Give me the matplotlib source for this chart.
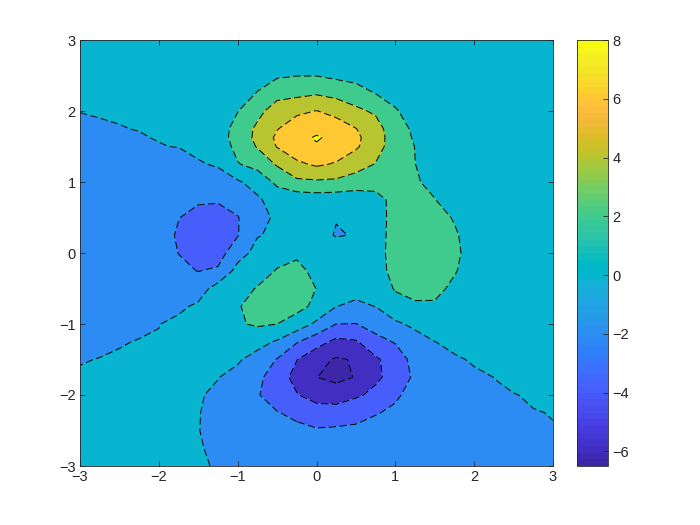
import numpy as np
import matplotlib
matplotlib.use('Agg')
import matplotlib.pyplot as plt
from matplotlib.cm import ScalarMappable
from matplotlib.colors import ListedColormap, Normalize

plt.rcParams['font.family'] = ['Liberation Sans', 'DejaVu Sans']

# values
x_vals = [-3, -2.75, -2.5, -2.25, -2, -1.75, -1.5, -1.25, -1, -0.75, -0.5, -0.25, 0,
          0.25, 0.5, 0.75, 1, 1.25, 1.5, 1.75, 2, 2.25, 2.5, 2.75, 3]
y_vals = [3, 2.75, 2.5, 2.25, 2, 1.75, 1.625, 1.5, 1.25, 1, 0.75, 0.5, 0.25, 0, -0.25,
          -0.5, -0.75, -1, -1.25, -1.5, -1.75, -2, -2.25, -2.5, -2.75, -3]
z_vals = [
    [.01, .01, .02, .02, .03, .04, .05, .08, .1, .12, .15, .3, .35, .3, .25, .15, .1, .06, .03, .02, .01, .01, .005, .005, .005],
    [.01, .01, .02, .03, .04, .07, .1, .2, .3, .5, .8, 1, 1.2, 1, .75, .55, .35, .2, .1, .05, .03, .01, .01, .005, .005],
    [.01, .02, .03, .05, .08, .12, .2, .35, .5, 1.2, 1.75, 1.95, 1.95, 1.6, 1.3, 1.2, .85, .45, .2, .1, .05, .02, .01, .005, .005],
    [.01, .02, .04, .07, .12, .18, .3, .6, .9, 2.1, 3.3, 3.5, 3.8, 3.4, 2.9, 1.95, 1.4, .8, .4, .2, .1, .04, .02, .01, .005],
    [.001, .01, .03, .06, .1, .2, .4, .8, 1.95, 3.4, 5, 5.6, 6.05, 5.4, 4.4, 3.7, 2.15, 1.25, .7, .35, .15, .08, .03, .01, .005],
    [-.01, -.015, -.01, .01, .06, .12, .5, 1.2, 2.6, 4.4, 5.9, 7.1, 7.6, 7, 6.05, 4.8, 2.8, 1.65, .9, .5, .25, .1, .05, .02, .01],
    [-.015, -.022, -.035, -.025, .02, .08, .45, 1.2, 2.7, 4.5, 6.35, 7.5, 8.15, 7.6, 6.4, 4.95, 2.95, 1.8, 1.05, .55, .3, .12, .06, .03, .01],
    [-.02, -.03, -.06, -.06, -.02, .02, .3, .95, 2.5, 4.15, 6.1, 7.3, 7.85, 7.3, 6.25, 4.85, 2.9, 1.97, 1.15, .6, .35, .14, .07, .03, .015],
    [-.03, -.05, -.1, -.2, -.3, -.35, -.12, .15, 1.9, 2.6, 4.2, 5.6, 6.3, 5.8, 4.9, 3.9, 2.6, 2.02, 1.2, .65, .35, .15, .07, .03, .015],
    [-.04, -.07, -.15, -.35, -.6, -.8, -1, -.7, -.25, .8, 2.4, 3.6, 3.7, 3.6, 3, 2.45, 2.3, 2.2, 1.5, .8, .4, .2, .08, .03, .015],
    [-.05, -.09, -.18, -.45, -.95, -1.4, -1.8, -1.8, -1.1, -.3, .9, .7, .9, .8, .9, 1.6, 2.35, 2.8, 2.05, 1, .5, .2, .08, .03, .015],
    [-.05, -.1, -.2, -.5, -1.2, -1.95, -2.5, -2.8, -2.1, -.6, .3, .4, .4, .06, .1, 1.55, 2.35, 3, 2.7, 1.85, .9, .35, .1, .03, .015],
    [-.06, -.11, -.22, -.52, -1.25, -2.2, -2.9, -3.2, -2.1, -.1, .3, .6, .52, -.1, .08, 1.55, 2.4, 3.3, 3.2, 2.25, 1.1, .4, .12, .04, .015],
    [-.06, -.1, -.22, -.5, -1.2, -2.03, -2.7, -2.8, -.8, .6, 1.4, 1.75, .9, .9, .55, 1.6, 2.4, 3.4, 3.3, 2.4, 1.2, .45, .14, .04, .015],
    [-.06, -.1, -.2, -.45, -1, -1.6, -2.05, -1.75, .65, 1.3, 2.1, 2.4, 1.6, 1.1, .7, 1.35, 2.5, 3.1, 2.95, 2.15, 1.1, .45, .15, .05, .015],
    [-.05, -.09, -.18, -.35, -.7, -1, -.9, .8, 1.4, 2.1, 2.9, 2.9, 1.97, .9, .5, .5, 2.2, 2.65, 2.5, 1.6, .85, .4, .15, .05, .015],
    [-.05, -.08, -.15, -.25, -.4, -.35, .3, 1.3, 1.85, 2.7, 3, 2.55, 1.6, .03, -.3, .03, 1, 1.7, 1.75, 1, .5, .25, .1, .04, .015],
    [-.04, -.06, -.1, -.1, -.05, .4, .7, 1, 1.8, 2.25, 2, 1.15, -.4, -2, -2.05, -1.15, -.25, .3, .7, .6, .3, .15, .07, .03, .012],
    [-.03, -.04, -.03, .02, .15, .4, .6, .75, .9, .6, -.2, -1.85, -3.2, -4.5, -4.2, -2.7, -1.85, -.6, -.01, .22, .2, .1, .05, .02, .01],
    [-.01, .005, .05, .12, .25, .35, .45, .55, .2, -.65, -2.1, -3.95, -5.4, -6.2, -5.85, -4.3, -3.1, -1.3, -.65, -.1, .08, .06, .04, .015, .008],
    [.02, .04, .08, .15, .25, .35, .3, .05, -.5, -1.5, -3.1, -4.6, -5.97, -6.5, -5.9, -4.3, -3.4, -1.6, -.95, -.4, -.12, .004, .015, .01, .006],
    [.03, .04, .07, .12, .2, .25, .14, -.3, -.9, -1.85, -3, -3.9, -4.7, -5, -4.25, -3.6, -2.25, -1.4, -.85, -.42, -.18, -.05, -.002, .006, .004],
    [.03, .04, .06, .1, .15, .18, .06, -.45, -1.1, -1.6, -1.9, -2.5, -3.2, -3.1, -2.8, -2.1, -1.7, -1.2, -.65, -.33, -.15, -.07, -.02, -.002, .0015],
    [.02, .03, .05, .08, .1, .12, .04, -.45, -1, -1.3, -1.5, -1.5, -1.8, -1.7, -1.55, -1.4, -1.2, -.75, -.4, -.2, -.1, -.05, -.02, -.006, -.002],
    [.02, .03, .04, .06, .08, .12, .14, -.35, -.8, -1, -1.1, -1.1, -1.1, -1, -.9, -.8, -.6, -.4, -.2, -.1, -.06, -.03, -.012, -.005, -.002],
    [.02, .02, .03, .04, .06, .1, .18, -.12, -.6, -.7, -.8, -.7, -.6, -.5, -.4, -.3, -.25, -.15, -.05, -.03, -.02, -.015, -.008, -.004, -.002],
]
levels = [-6, -4, -2, 0, 2, 4, 6, 8]
x_ticks = [-3, -2, -1, 0, 1, 2, 3]
cbar_ticks = [-6, -4, -2, 0, 2, 4, 6, 8]

# parula
parula = ListedColormap([
    [0.2422, 0.1504, 0.6603], [0.2504, 0.1650, 0.7076], [0.2578, 0.1818, 0.7511], [0.2647, 0.1978, 0.7952],
    [0.2706, 0.2147, 0.8364], [0.2751, 0.2342, 0.8710], [0.2783, 0.2559, 0.8991], [0.2803, 0.2782, 0.9221],
    [0.2813, 0.3006, 0.9414], [0.2810, 0.3228, 0.9579], [0.2795, 0.3447, 0.9717], [0.2760, 0.3667, 0.9829],
    [0.2699, 0.3892, 0.9906], [0.2602, 0.4123, 0.9952], [0.2440, 0.4358, 0.9988], [0.2206, 0.4603, 0.9973],
    [0.1963, 0.4847, 0.9892], [0.1834, 0.5074, 0.9798], [0.1786, 0.5289, 0.9682], [0.1764, 0.5499, 0.9520],
    [0.1687, 0.5703, 0.9359], [0.1540, 0.5902, 0.9218], [0.1460, 0.6091, 0.9079], [0.1380, 0.6276, 0.8973],
    [0.1248, 0.6459, 0.8883], [0.1113, 0.6635, 0.8763], [0.0952, 0.6798, 0.8598], [0.0689, 0.6948, 0.8394],
    [0.0297, 0.7082, 0.8163], [0.0036, 0.7203, 0.7917], [0.0067, 0.7312, 0.7660], [0.0433, 0.7411, 0.7394],
    [0.0964, 0.7500, 0.7120], [0.1408, 0.7584, 0.6842], [0.1717, 0.7670, 0.6554], [0.1938, 0.7758, 0.6251],
    [0.2161, 0.7843, 0.5923], [0.2470, 0.7918, 0.5567], [0.2906, 0.7973, 0.5188], [0.3406, 0.8008, 0.4789],
    [0.3909, 0.8029, 0.4354], [0.4456, 0.8024, 0.3909], [0.5044, 0.7993, 0.3480], [0.5616, 0.7942, 0.3045],
    [0.6174, 0.7876, 0.2612], [0.6720, 0.7793, 0.2227], [0.7242, 0.7698, 0.1910], [0.7738, 0.7598, 0.1646],
    [0.8203, 0.7498, 0.1535], [0.8634, 0.7406, 0.1596], [0.9035, 0.7330, 0.1774], [0.9393, 0.7288, 0.2100],
    [0.9728, 0.7298, 0.2394], [0.9956, 0.7434, 0.2371], [0.9970, 0.7659, 0.2199], [0.9952, 0.7861, 0.1990],
    [0.9892, 0.8134, 0.1885], [0.9786, 0.8422, 0.1766], [0.9676, 0.8725, 0.1619], [0.9610, 0.8982, 0.1537],
    [0.9597, 0.9190, 0.1437], [0.9628, 0.9373, 0.1265], [0.9691, 0.9606, 0.1066], [0.9763, 0.9831, 0.0538],
])
norm = Normalize(-6.5, 8)

x = np.array(x_vals)
y = np.array(y_vals)[::-1]
z = np.array(z_vals)[::-1]

fig = plt.figure(figsize=(7, 5.25), dpi=100, facecolor='white')
ax = fig.add_axes([80 / 700, 1 - 466 / 525, 473 / 700, 426 / 525])

# 각 구간은 아래쪽 레벨의 색으로 칠한다
fill_levels = [-7] + levels + [9]
fill_colors = [parula(norm(v)) for v in [-6.5] + levels]
ax.contourf(x, y, z, levels=fill_levels, colors=fill_colors)
ax.contour(x, y, z, levels=levels, colors='black', linewidths=0.7, linestyles=[(0, (7.5, 3.5))])

ax.set_xlim(-3, 3)
ax.set_ylim(-3, 3)
ax.set_xticks(x_ticks)
ax.set_yticks(x_ticks)
ax.tick_params(direction='in', top=True, right=True, length=3.5, width=0.6, color='#262626',
               labelcolor='#262626', labelsize=10.5, pad=3)
for s in ax.spines.values():
    s.set_linewidth(0.6)
    s.set_color('#262626')

cax = fig.add_axes([577 / 700, 1 - 466 / 525, 31 / 700, 426 / 525])
cb = fig.colorbar(ScalarMappable(norm=norm, cmap=parula), cax=cax)
cb.set_ticks(cbar_ticks)
cb.ax.tick_params(direction='in', length=3.5, width=0.6, color='#262626', labelcolor='#262626',
                  labelsize=10.5, pad=3)
cb.outline.set_linewidth(0.6)
cb.outline.set_edgecolor('#262626')

fig.savefig('out.png', dpi=100)
